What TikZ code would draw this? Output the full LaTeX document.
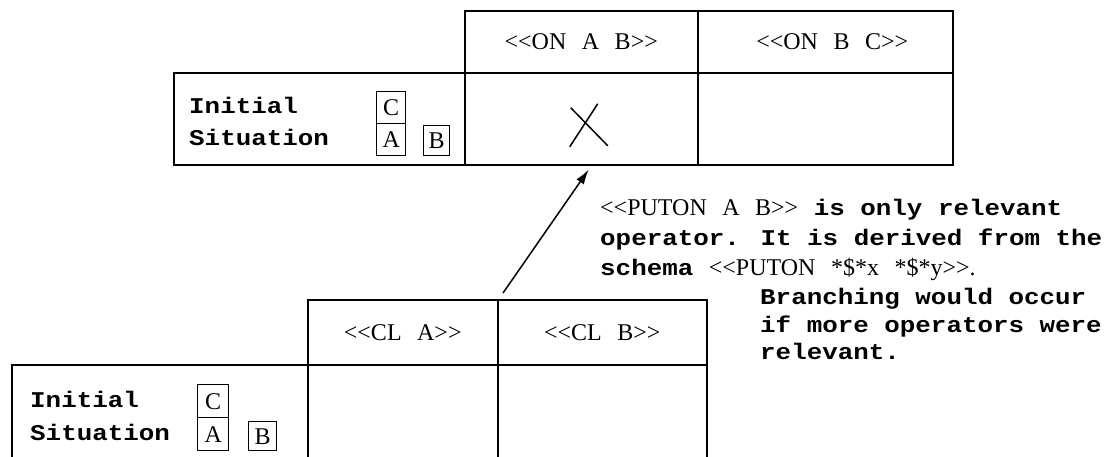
\documentclass[tikz,border=0pt]{standalone}
\usepackage{fontspec}
\usetikzlibrary{arrows.meta}
% typewriter face for running text, serif face for the <<...>> patterns
\newfontfamily\tw[FakeStretch=1.15]{Liberation Mono}
\newfontfamily\sr[Ligatures=TeXOff]{Liberation Serif}
\newcommand\tsp{\hbox{\tw\fontsize{22.5}{29}\selectfont\ }}
\newcommand\srf{\sr\mdseries\fontsize{24}{29}\selectfont}

\tikzset{
  cell/.style={draw, line width=1.5pt, inner sep=0pt, anchor=north west},
  hdr/.style={cell, font=\srf},
  blk/.style={draw, line width=1.4pt, inner sep=0pt, anchor=north west,
              font=\sr\fontsize{24}{24}\selectfont},
  txt/.style={anchor=base west, inner sep=0pt,
              font=\tw\bfseries\fontsize{22.5}{29}\selectfont},
  xmark/.style={line width=1.5pt},
  arr/.style={line width=1.5pt, -{Latex[length=15pt,width=9pt]}}
}

\begin{document}
\begin{tikzpicture}[x=1pt, y=-1pt]
\path[use as bounding box, fill=white] (0,0) rectangle (1118,456);
\clip (0,0) rectangle (1118,456);

% upper table: goal columns
\node[hdr, minimum width=233pt, minimum height=62pt] (h1) at (464,10) {<<ON\tsp A\tsp B>>};
\node[hdr, minimum width=255pt, minimum height=62pt] (h2) at (697,10) {\hspace{14pt}<<ON\tsp B\tsp C>>};
\node[cell, minimum width=291pt, minimum height=92pt] (s0) at (173,72) {};
\node[cell, minimum width=233pt, minimum height=92pt] (s1) at (464,72) {};
\node[cell, minimum width=255pt, minimum height=92pt] (s2) at (697,72) {};

\node[txt] (ini1) at (189,113) {Initial};
\node[txt] (sit1) at (189,145) {Situation};
\node[blk, minimum width=29pt, minimum height=32pt] (c1) at (376,91) {C};
\node[blk, minimum width=29pt, minimum height=32pt] (a1) at (376,123) {A};
\node[blk, minimum width=26pt, minimum height=30pt] (b1) at (423,125) {B};

% cross in the achieved cell
\draw[xmark] ([shift={(-10.5,-11)}]s1.center) -- ([shift={(26.5,27)}]s1.center);
\draw[xmark] ([shift={(16.5,-15)}]s1.center) -- ([shift={(-11.5,28)}]s1.center);

% lower table: operator columns
\node[hdr, minimum width=190pt, minimum height=65pt] (H1) at (307,299) {<<CL\tsp A>>};
\node[hdr, minimum width=209pt, minimum height=65pt] (H2) at (497,299) {<<CL\tsp B>>};
\node[cell, minimum width=296pt, minimum height=120pt] (S0) at (11,364) {};
\node[cell, minimum width=190pt, minimum height=120pt] (S1) at (307,364) {};
\node[cell, minimum width=209pt, minimum height=120pt] (S2) at (497,364) {};

\node[txt] (ini2) at (30,407) {Initial};
\node[txt] (sit2) at (30,440) {Situation};
\node[blk, minimum width=31pt, minimum height=33pt] (c2) at (197,384) {C};
\node[blk, minimum width=31pt, minimum height=33pt] (a2) at (197,417) {A};
\node[blk, minimum width=28pt, minimum height=29pt] (b2) at (248,421) {B};

% arrow from the lower table to the cross
\draw[arr] ([shift={(6,-6)}]H2.north west) -- ([shift={(7.5,4)}]s1.south);

% commentary
\node[txt] (n1) at (600,215) {{\srf <<PUTON\tsp A\tsp B>>} is only relevant};
\node[txt] (n2) at (600,245) {operator. It is derived from the};
\node[txt] (n3) at (600,275) {schema {\srf <<PUTON\tsp *\$*x\tsp *\$*y>>.}};
\node[txt] (n4) at (760,304) {Branching would occur};
\node[txt] (n5) at (760,332) {if more operators were};
\node[txt] (n6) at (760,359) {relevant.};
\end{tikzpicture}
\end{document}
